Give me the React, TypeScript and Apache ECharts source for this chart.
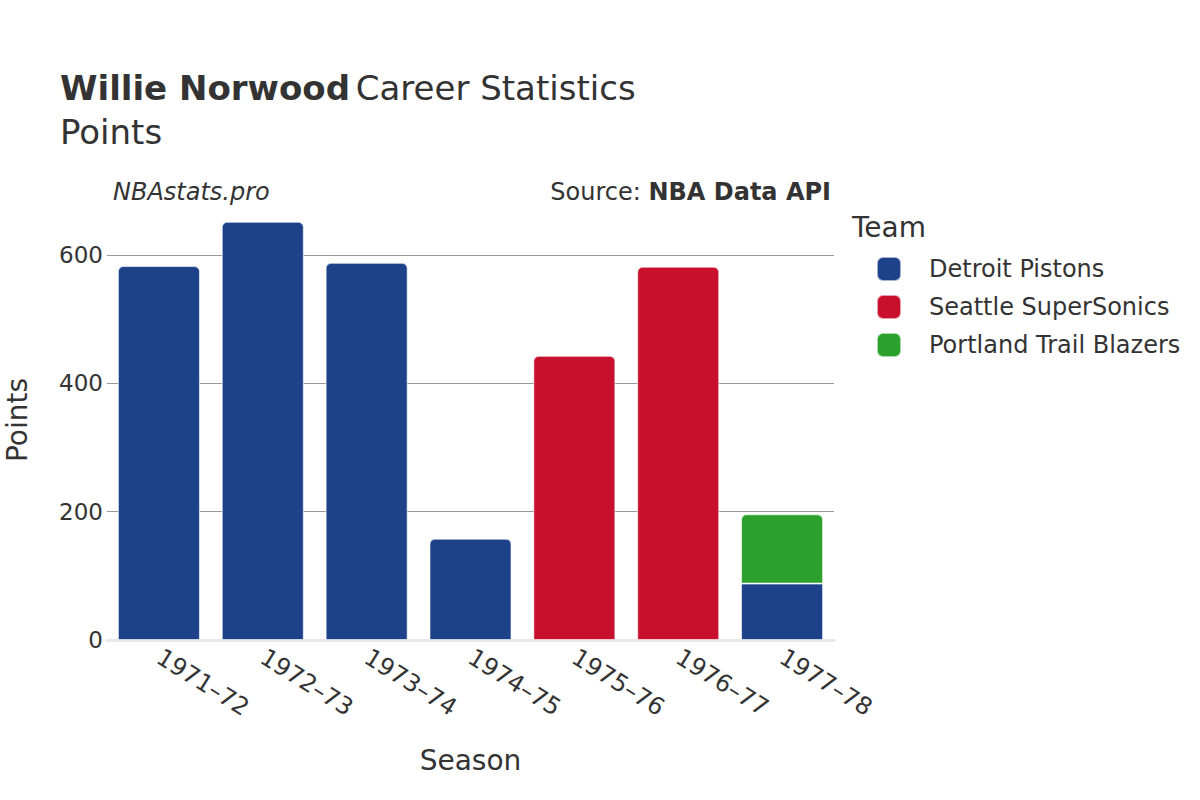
import React, { useEffect, useRef } from "react";
import * as echarts from "echarts";

const seasons = ["1971–72", "1972–73", "1973–74", "1974–75", "1975–76", "1976–77", "1977–78"];
const detroitPts = [583, 652, 588, 158, null, null, 88];
const seattlePts = [null, null, null, null, 443, 582, null];
const portlandPts = [null, null, null, null, null, null, 108];
const yTicks = [0, 200, 400, 600];

const FONT = "DejaVu Sans";
const TXT = "#333";

export default function App() {
  const ref = useRef<HTMLDivElement>(null);
  useEffect(() => {
    document.body.style.margin = "0";
    const chart = echarts.init(ref.current!, null, { renderer: "svg" });
    const top = [5, 5, 0, 0];
    const mk = (vals: (number | null)[], color: string, topIdx: (i: number) => boolean) =>
      vals.map((v, i) =>
        v == null ? null : { value: v, itemStyle: { color, borderRadius: topIdx(i) ? top : 0 } }
      );
    chart.setOption({
      animation: false,
      textStyle: { fontFamily: FONT },
      title: [
        {
          left: 55,
          top: 66,
          text: "{b|Willie Norwood} {n|Career Statistics}",
          textStyle: {
            fontWeight: "normal",
            rich: {
              b: { fontFamily: FONT, fontSize: 34, fontWeight: "bold", color: TXT },
              n: { fontFamily: FONT, fontSize: 34, fontWeight: "normal", color: TXT },
            },
          },
        },
        { left: 55, top: 110, text: "Points", textStyle: { fontFamily: FONT, fontSize: 34, fontWeight: "normal", color: TXT } },
        { left: 108, top: 175, text: "NBAstats.pro", textStyle: { fontFamily: FONT, fontSize: 24, fontStyle: "italic", fontWeight: "normal", color: TXT } },
        {
          right: 364,
          top: 175,
          text: "{n|Source: }{b|NBA Data API}",
          textStyle: {
            fontWeight: "normal",
            rich: {
              n: { fontFamily: FONT, fontSize: 24, fontWeight: "normal", color: TXT },
              b: { fontFamily: FONT, fontSize: 24, fontWeight: "bold", color: TXT },
            },
          },
        },
        { left: 847, top: 208, text: "Team", textStyle: { fontFamily: FONT, fontSize: 28, fontWeight: "normal", color: TXT } },
      ],
      legend: {
        orient: "vertical",
        left: 871,
        top: 251,
        itemWidth: 24,
        itemHeight: 24,
        itemGap: 12,
        icon: "roundRect",
        textStyle: { fontFamily: FONT, fontSize: 24, lineHeight: 24, color: TXT, padding: [0, 0, 0, 23] },
        data: ["Detroit Pistons", "Seattle SuperSonics", "Portland Trail Blazers"],
      },
      grid: { left: 107, right: 366, top: 200, bottom: 160, containLabel: false, outerBoundsMode: "none" },
      xAxis: {
        type: "category",
        data: seasons,
        name: "Season",
        nameLocation: "middle",
        nameGap: 106,
        nameMoveOverlap: false,
        nameTextStyle: { fontFamily: FONT, fontSize: 28, color: TXT },
        axisLine: { show: true, lineStyle: { color: "#e8e8e8", width: 3 } },
        axisTick: { show: false },
        axisLabel: { rotate: -32, fontSize: 24, color: TXT, fontFamily: FONT, margin: 15 },
      },
      yAxis: {
        type: "value",
        min: 0,
        max: 686,
        interval: 200,
        name: "Points",
        nameLocation: "middle",
        nameGap: 76,
        nameMoveOverlap: false,
        nameTextStyle: { fontFamily: FONT, fontSize: 28, color: TXT },
        axisLine: { show: false },
        axisTick: { show: false },
        axisLabel: {
          fontSize: 23,
          color: TXT,
          fontFamily: FONT,
          margin: 4,
          showMaxLabel: false,
          formatter: (v: number) => (yTicks.includes(v) ? String(v) : ""),
        },
        splitLine: { show: true, showMinLine: false, showMaxLine: false, lineStyle: { color: "#999", width: 1 } },
      },
      series: [
        {
          name: "Detroit Pistons",
          type: "bar",
          stack: "total",
          barCategoryGap: "21%",
          itemStyle: { color: "#1D428A", borderColor: "rgba(255,255,255,0.6)", borderWidth: 1 },
          data: mk(detroitPts, "#1D428A", (i) => portlandPts[i] == null),
        },
        {
          name: "Seattle SuperSonics",
          type: "bar",
          stack: "total",
          barCategoryGap: "21%",
          itemStyle: { color: "#C8102E", borderColor: "rgba(255,255,255,0.6)", borderWidth: 1 },
          data: mk(seattlePts, "#C8102E", () => true),
        },
        {
          name: "Portland Trail Blazers",
          type: "bar",
          stack: "total",
          barCategoryGap: "21%",
          itemStyle: { color: "#2CA02C", borderColor: "rgba(255,255,255,0.6)", borderWidth: 1 },
          data: mk(portlandPts, "#2CA02C", () => true),
        },
      ],
    });
    return () => chart.dispose();
  }, []);
  return <div ref={ref} style={{ width: 1200, height: 800 }} />;
}
